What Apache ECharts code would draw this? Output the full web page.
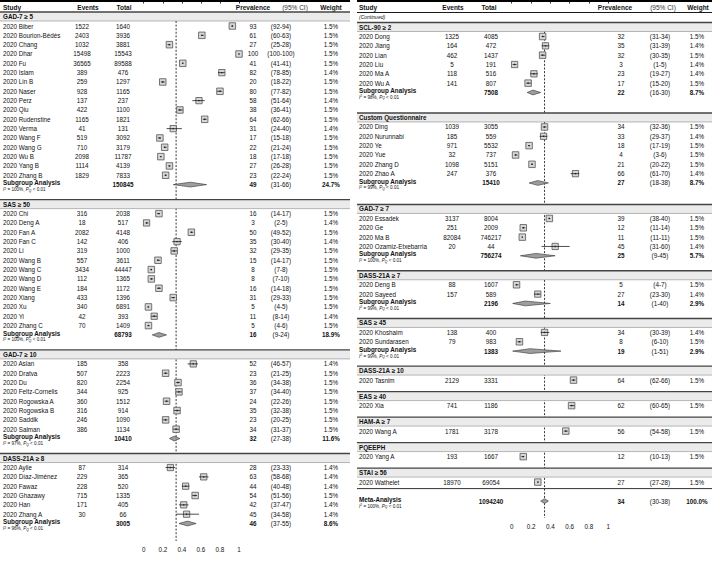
<!DOCTYPE html>
<html><head><meta charset="utf-8">
<script src="https://cdn.jsdelivr.net/npm/echarts@6/dist/echarts.min.js"></script>
<style>html,body{margin:0;padding:0;background:#fff}#c{width:712px;height:582px}</style>
</head><body><div id="c"></div>
<script>
// ---------------- DATA ----------------
const groupLabels = ['GAD-7 ≥ 5','SAS ≥ 50','GAD-7 ≥ 10','DASS-21A ≥ 8','SCL-90 ≥ 2','Custom Questionnaire','GAD-7 ≥ 7','DASS-21A ≥ 7','SAS ≥ 45','DASS-21A ≥ 10','EAS ≥ 40','HAM-A ≥ 7','PQEEPH','STAI ≥ 56'];

const studyGroup = [0,0,0,0,0,0,0,0,0,0,0,0,0,0,0,0,0, 1,1,1,1,1,1,1,1,1,1,1,1,1, 2,2,2,2,2,2,2,2, 3,3,3,3,3,3, 4,4,4,4,4,4, 5,5,5,5,5,5, 6,6,6,6, 7,7, 8,8, 9, 10, 11, 12, 13];
const studyYear = 2020;
const studyNames = ['Biber','Bourion-Bédès','Chang','Dhar','Fu','Islam','Lin B','Naser','Perz','Qiu','Rudenstine','Verma','Wang F','Wang G','Wu B','Yang B','Zhang B',
  'Chi','Deng A','Fan A','Fan C','Li','Wang B','Wang C','Wang D','Wang E','Xiang','Xu','Yi','Zhang C',
  'Aslan','Dratva','Du','Feltz-Cornelis','Rogowska A','Rogowska B','Saddik','Salman',
  'Aylie','Díaz-Jiménez','Fawaz','Ghazawy','Han','Zhang A',
  'Dong','Jiang','Lian','Liu','Ma A','Wu A',
  'Ding','Nurunnabi','Ye','Yue','Zhang D','Zhao A',
  'Essadek','Ge','Ma B','Ozamiz-Etxebarria',
  'Deng B','Sayeed','Khoshaim','Sundarasen','Tasnim','Xia','Wang A','Yang A','Wathelet'];
const studyEvents = [1522,2403,1032,15498,36565,389,259,928,137,422,1165,41,519,710,2098,1114,1829,
  316,18,2082,142,319,557,3434,112,184,433,340,42,70,
  185,507,820,344,360,316,246,386,
  87,229,228,715,171,30,
  1325,164,462,5,118,141,
  1039,185,971,32,1098,247,
  3137,251,82084,20,
  88,157,138,79,2129,741,1781,193,18970];
const studyTotals = [1640,3936,3881,15543,89588,476,1297,1165,237,1100,1821,131,3092,3179,11787,4139,7833,
  2038,517,4148,406,1000,3611,44447,1365,1172,1396,6891,393,1409,
  358,2223,2254,925,1512,914,1090,1134,
  314,365,520,1335,405,66,
  4085,472,1437,191,516,807,
  3055,559,5532,737,5151,376,
  8004,2009,746217,44,
  1607,589,400,983,3331,1186,3178,1667,69054];
const studyPrev = [93,61,27,100,41,82,20,80,58,38,64,31,17,22,18,27,23,
  16,3,50,35,32,15,8,8,16,31,5,11,5,
  52,23,36,37,24,35,23,34,
  28,63,44,54,42,45,
  32,35,32,3,23,17,
  34,33,18,4,21,66,
  39,12,11,45,
  5,27,34,8,64,62,56,12,27];
const studyLo = [92,60,25,100,41,78,18,77,51,36,62,24,15,21,17,26,22,
  14,2,49,30,29,14,7,7,14,29,4,8,4,
  46,21,34,34,22,32,20,31,
  23,58,40,51,37,34,
  31,31,30,1,19,15,
  32,29,17,3,20,61,
  38,11,11,31,
  4,23,30,6,62,60,54,10,27];
const studyHi = [94,63,28,100,41,85,22,82,64,41,66,40,18,24,18,28,24,
  17,5,52,40,35,17,8,10,18,33,5,14,6,
  57,25,38,40,26,38,25,37,
  33,68,48,56,47,58,
  34,39,35,5,27,20,
  36,37,19,6,22,70,
  40,14,11,60,
  7,30,39,10,66,65,58,13,28];
const studyWeight = [1.5,1.5,1.5,1.5,1.5,1.4,1.5,1.5,1.4,1.5,1.5,1.4,1.5,1.5,1.5,1.5,1.5,
  1.5,1.4,1.5,1.4,1.5,1.5,1.5,1.5,1.5,1.5,1.5,1.4,1.5,
  1.4,1.5,1.5,1.5,1.5,1.5,1.5,1.5,
  1.4,1.4,1.4,1.5,1.4,1.4,
  1.5,1.4,1.5,1.4,1.4,1.5,
  1.5,1.4,1.5,1.5,1.5,1.4,
  1.5,1.5,1.5,1.4,
  1.5,1.4,1.4,1.5,1.5,1.5,1.5,1.5,1.5];

// subgroup summaries (null = single-study group)
const subTotal  = [150845,68793,10410,3005,7508,15410,756274,2196,1383,null,null,null,null,null];
const subPrev   = [49,16,32,46,22,27,25,14,19,null,null,null,null,null];
const subLo     = [31,9,27,37,16,18,9,1,1,null,null,null,null,null];
const subHi     = [66,24,38,55,30,38,45,40,51,null,null,null,null,null];
const subWeight = [24.7,18.9,11.6,8.6,8.7,8.7,5.7,2.9,2.9,null,null,null,null,null];
const subI2     = [100,100,97,96,98,99,100,99,99,null,null,null,null,null];

const overall = {total:1094240, prev:34, lo:30, hi:38, weight:100.0, i2:100};
const headerLabels = ['Study','Events','Total','Prevalence','(95% CI)','Weight'];
const tickValues = [0,0.2,0.4,0.6,0.8,1];

// ---------------- LAYOUT ----------------
const FONT = '"Liberation Sans", Arial, Helvetica, sans-serif';
const FS = 6.3;
const ROW = 9.33;
const HEAD_TO_FIRST = 9.5;
const TXT = '#111';

const panels = [
  {groups:[0,1,2,3], x0:0, width:350, gridLeft:143.7, gridWidth:95.3, axisY:541,
   cols:{study:3, events:82, total:123, prev:253, ci:281, weight:331},
   heads:{events:88, total:124, prev:253, ci:295, weight:331},
   firstBand:16.5, gaps:[0,19.5,19.5,19.5], refTop:21, continued:false, overall:false},
  {groups:[4,5,6,7,8,9,10,11,12,13], x0:357, width:355, gridLeft:511.7, gridWidth:96.6, axisY:518,
   cols:{study:359, events:452, total:491, prev:621, ci:660, weight:697},
   heads:{events:453, total:489, prev:615, ci:663, weight:698},
   firstBand:27, gaps:[0,25,26,19.5,19.5,19.5,16,16,16,16], refTop:31.5, continued:true,
   overall:true, overallGap:19}
];

function buildRows(p){
  const rows = [];
  rows.push({t:'ref', y:p.refTop, y1:p.axisY});
  rows.push({t:'head', y:7});
  if (p.continued) rows.push({t:'cont', y:16.5});
  let y = p.firstBand;
  p.groups.forEach((g,k)=>{
    if (k>0) y += p.gaps[k];
    rows.push({t:'band', y, g});
    y += HEAD_TO_FIRST;
    const members = [];
    studyGroup.forEach((gg,i)=>{ if (gg===g) members.push(i); });
    members.forEach((s,j)=>{ if (j) y += ROW; rows.push({t:'study', y, s}); });
    if (subTotal[g] !== null) { y += ROW; rows.push({t:'sub', y, g}); }
  });
  if (p.overall){
    rows.push({t:'sep', y:y+6.5});
    y += p.overallGap;
    rows.push({t:'all', y});
  }
  return rows;
}

function i2Rich(v){
  return '{i|I}{s|2}{n| = ' + v + '%, }{i|P}{q|Q}{n| < 0.01}';
}
const i2RichStyle = {
  i:{fontSize:4.6, fontStyle:'italic', fontFamily:FONT, fill:TXT, verticalAlign:'middle'},
  s:{fontSize:3.4, fontFamily:FONT, fill:TXT, verticalAlign:'top'},
  n:{fontSize:4.6, fontFamily:FONT, fill:TXT, verticalAlign:'middle'},
  q:{fontSize:3.4, fontStyle:'italic', fontFamily:FONT, fill:TXT, verticalAlign:'bottom'}
};

function makeRender(p, rows){
  return function(params, api){
    const r = rows[api.value(2)];
    const Y = api.coord([0, r.y])[1];
    const X = v => api.coord([v, r.y])[0];
    const ch = [];
    const txt = (s, x, align, o) => {
      o = o || {};
      ch.push({type:'text', silent:true, style:{text:String(s), x:x, y:Y+(o.dy||0), align:align, verticalAlign:'middle',
        fill:o.fill||TXT, fontSize:o.size||FS, fontWeight:o.weight||'normal', fontStyle:o.style||'normal', fontFamily:FONT}});
    };
    const hline = (y, lw, color) => ch.push({type:'line', silent:true,
      shape:{x1:p.x0, y1:y, x2:p.x0+p.width, y2:y}, style:{stroke:color, lineWidth:lw}});
    const c = p.cols, h = p.heads;
    if (r.t==='ref'){
      const x = api.coord([overall.prev/100, 0])[0];
      ch.push({type:'line', silent:true, shape:{x1:x, y1:api.coord([0,r.y])[1], x2:x, y2:api.coord([0,r.y1])[1]},
        style:{stroke:'#000', lineWidth:0.8, lineDash:[2,1.6]}});
    } else if (r.t==='head'){
      hline(1, 2, '#000');
      hline(12.5, 0.9, '#000');
      txt(headerLabels[0], c.study, 'left', {weight:'bold', size:6.5});
      txt(headerLabels[1], h.events, 'center', {weight:'bold', size:6.5});
      txt(headerLabels[2], h.total, 'center', {weight:'bold', size:6.5});
      txt(headerLabels[3], h.prev, 'center', {weight:'bold', size:6.5});
      txt(headerLabels[4], h.ci, 'center', {size:6.5, fill:'#333'});
      txt(headerLabels[5], h.weight, 'center', {weight:'bold', size:6.5});
    } else if (r.t==='cont'){
      txt('(Continued)', c.study, 'left', {style:'italic', size:5});
    } else if (r.t==='band'){
      ch.push({type:'rect', silent:true, shape:{x:p.x0, y:Y-4.5, width:p.width, height:9}, style:{fill:'#ebebeb'}});
      hline(Y-4.5, 1.4, '#444');
      hline(Y+4.5, 0.6, '#8a8a8a');
      txt(groupLabels[r.g], c.study, 'left', {weight:'bold'});
    } else if (r.t==='study'){
      const s = r.s;
      txt(studyYear + ' ' + studyNames[s], c.study, 'left');
      txt(studyEvents[s], c.events, 'center');
      txt(studyTotals[s], c.total, 'center');
      const cx = X(studyPrev[s]/100);
      const sz = 6.5*Math.sqrt(studyWeight[s]/1.5);
      ch.push({type:'rect', silent:true, shape:{x:cx-sz/2, y:Y-sz/2, width:sz, height:sz},
        style:{fill:'#d6d6d6', stroke:'#555', lineWidth:0.8}});
      ch.push({type:'line', silent:true, shape:{x1:X(studyLo[s]/100), y1:Y, x2:X(studyHi[s]/100), y2:Y},
        style:{stroke:'#000', lineWidth:0.7}});
      ch.push({type:'rect', silent:true, shape:{x:cx-0.7, y:Y-0.7, width:1.4, height:1.4}, style:{fill:'#222'}});
      txt(studyPrev[s], c.prev, 'center');
      txt('(' + studyLo[s] + '-' + studyHi[s] + ')', c.ci, 'center');
      txt(studyWeight[s].toFixed(1) + '%', c.weight, 'center');
    } else if (r.t==='sub' || r.t==='all'){
      const d = r.t==='sub'
        ? {label:'Subgroup Analysis', total:subTotal[r.g], prev:subPrev[r.g], lo:subLo[r.g], hi:subHi[r.g], w:subWeight[r.g], i2:subI2[r.g]}
        : {label:'Meta-Analysis', total:overall.total, prev:overall.prev, lo:overall.lo, hi:overall.hi, w:overall.weight, i2:overall.i2};
      txt(d.label, c.study, 'left', {weight:'bold', dy:-1.8});
      ch.push({type:'text', silent:true, style:{text:i2Rich(d.i2), rich:i2RichStyle, x:c.study, y:Y+5, align:'left', verticalAlign:'middle', fontSize:4.6, fontFamily:FONT, fill:TXT}});
      txt(d.total, c.total, 'center', {weight:'bold'});
      const xl = X(d.lo/100), xm = X(d.prev/100), xh = X(d.hi/100);
      ch.push({type:'polygon', silent:true, shape:{points:[[xl,Y],[xm,Y-2.4],[xh,Y],[xm,Y+2.4]]},
        style:{fill:'#9e9e9e', stroke:'#333', lineWidth:0.6}});
      txt(d.prev, c.prev, 'center', {weight:'bold'});
      txt('(' + d.lo + '-' + d.hi + ')', c.ci, 'center');
      txt(d.w.toFixed(1) + '%', c.weight, 'center', {weight:'bold'});
    } else if (r.t==='sep'){
      hline(Y, 1, '#333');
    }
    return {type:'group', children:ch};
  };
}

// ---------------- CHART ----------------
const chart = echarts.init(document.getElementById('c'), null, {renderer:'svg', width:712, height:582});
const grids = [], xAxes = [], yAxes = [], series = [];
panels.forEach((p, i)=>{
  const rows = buildRows(p);
  grids.push({left:p.gridLeft, width:p.gridWidth, top:0, height:p.axisY, containLabel:false, outerBoundsMode:'none'});
  xAxes.push({type:'value', gridIndex:i, min:tickValues[0], max:tickValues[tickValues.length-1], interval:0.2,
    axisLine:{show:true, lineStyle:{color:'#000', width:0.8}},
    axisTick:{show:true, length:3.5, lineStyle:{color:'#000', width:0.8}},
    axisLabel:{show:true, fontSize:FS, color:'#111', fontFamily:FONT, margin:5,
      formatter: v => { const t = tickValues.find(tv => Math.abs(tv - v) < 1e-9); return t === undefined ? '' : String(t); }},
    splitLine:{show:false}});
  yAxes.push({type:'value', gridIndex:i, min:0, max:p.axisY, inverse:true, show:false});
  series.push({type:'custom', xAxisIndex:i, yAxisIndex:i, coordinateSystem:'cartesian2d', clip:false, silent:true,
    renderItem: makeRender(p, rows), encode:{x:0, y:1},
    data: rows.map((r, k) => [0.5, r.y, k])});
});
chart.setOption({animation:false, backgroundColor:'#fff', grid:grids, xAxis:xAxes, yAxis:yAxes, series:series, tooltip:{show:false}});
</script>
</body></html>
